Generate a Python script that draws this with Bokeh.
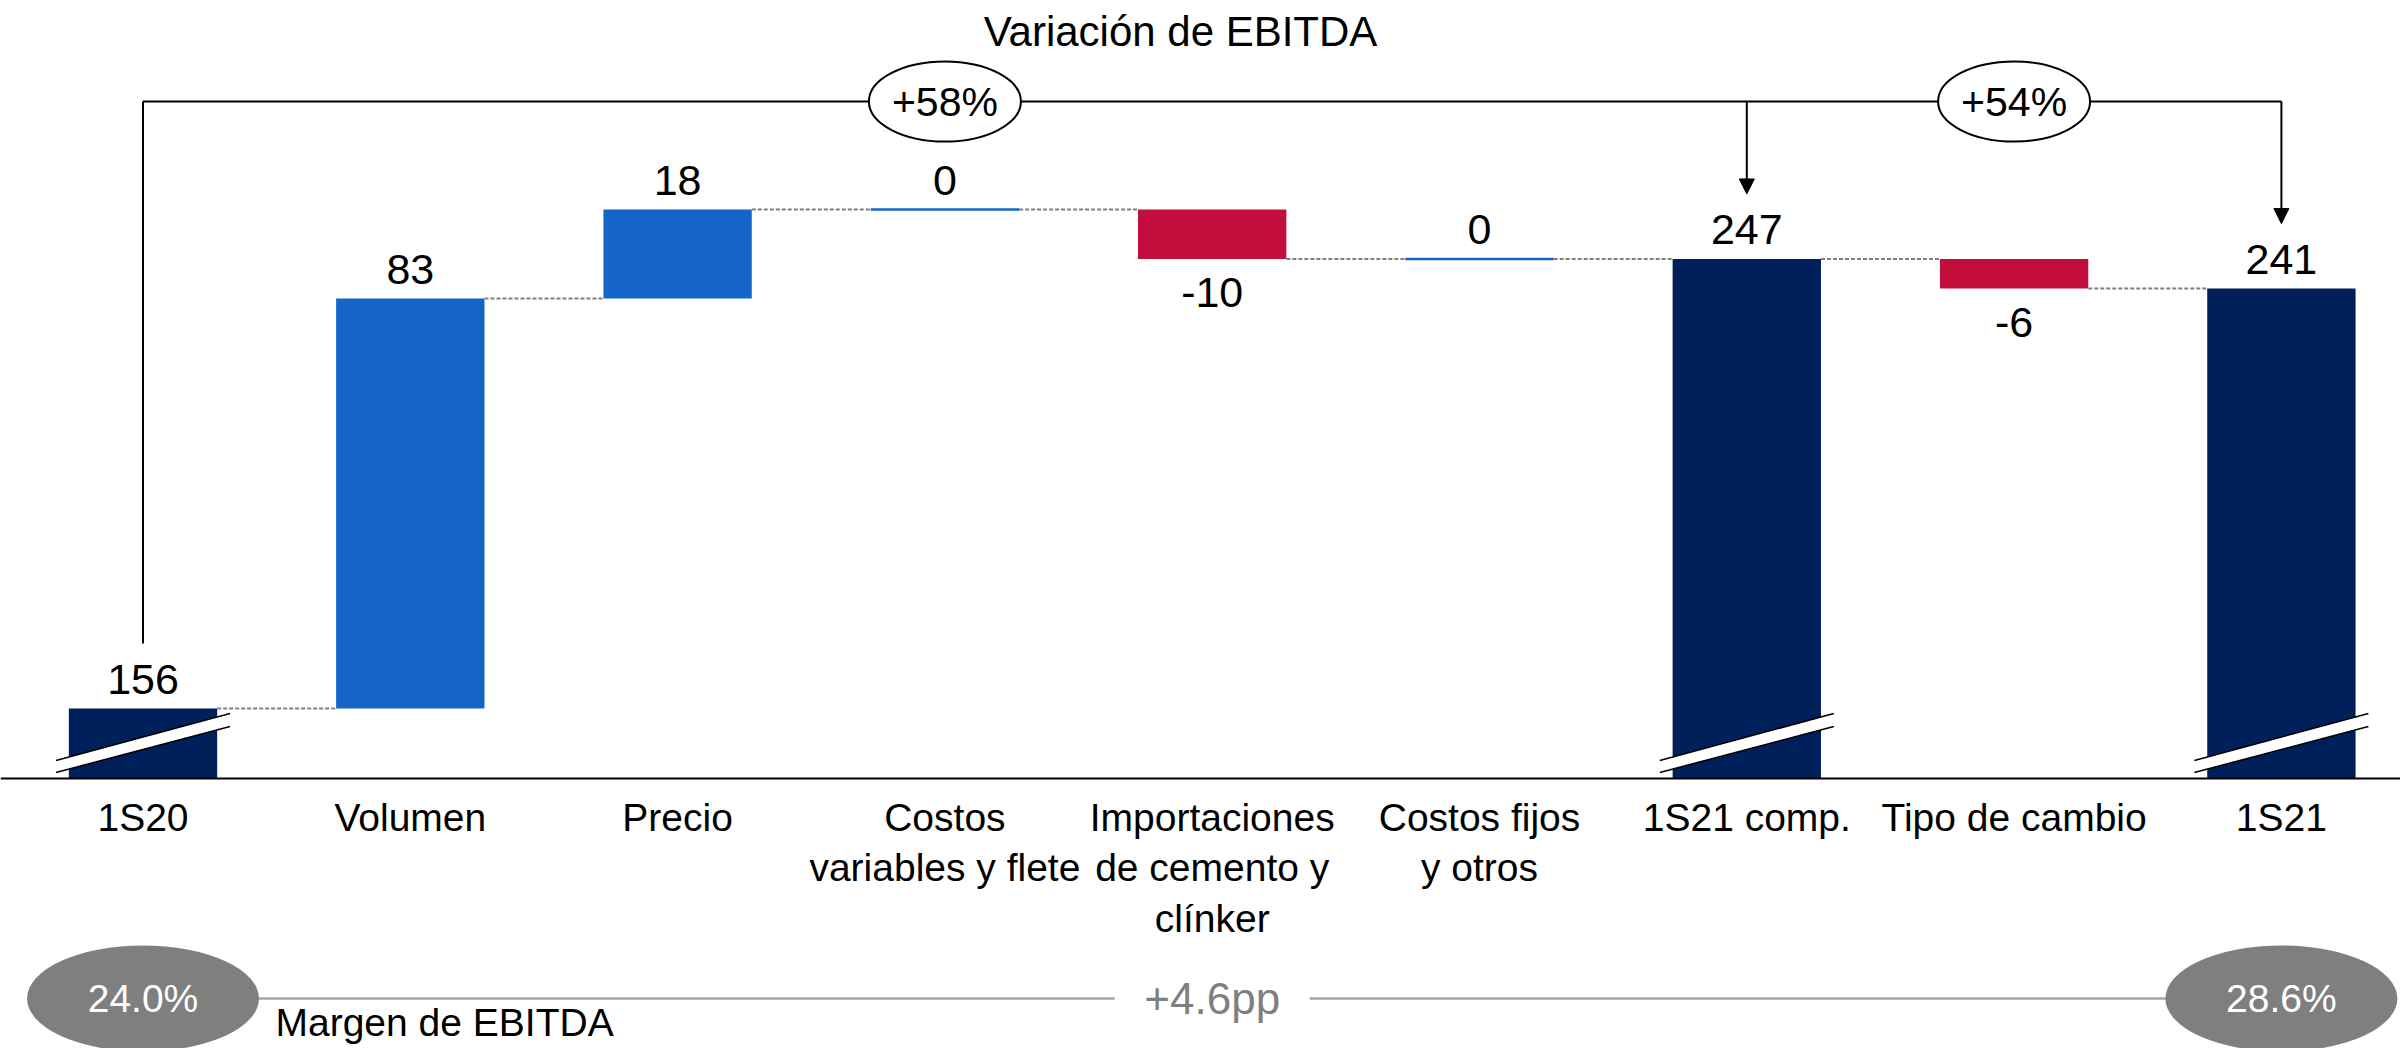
from bokeh.plotting import figure
from bokeh.models import Range1d, ColumnDataSource, Span, Arrow, NormalHead
from bokeh.core.properties import value
from bokeh.embed import file_html
from bokeh.resources import INLINE

# ---------------- data ----------------
title = "Variación de EBITDA"
categories = ["1S20", "Volumen", "Precio", "Costos\nvariables y flete",
              "Importaciones\nde cemento y\nclínker", "Costos fijos\ny otros",
              "1S21 comp.", "Tipo de cambio", "1S21"]
values = [156, 83, 18, 0, -10, 0, 247, -6, 241]
kinds = ["total", "delta", "delta", "delta", "delta", "delta", "total", "delta", "total"]
value_labels = ["156", "83", "18", "0", "-10", "0", "247", "-6", "241"]
growth_labels = ["+58%", "+54%"]
growth_targets = [6, 8]          # 1S21 comp., 1S21 (compared with 1S20)
margin_labels = ["24.0%", "28.6%"]
margin_index = [0, 8]
margin_change = "+4.6pp"
margin_title = "Margen de EBITDA"

# ---------------- style / layout ----------------
FONT = "Liberation Sans"
NAVY, BLUE, RED = "#00205B", "#1565C8", "#C20E3C"
GREY, LIGHTGREY = "#7F7F7F", "#A6A6A6"
W, H = 2400, 1048
PX_X = 267.3        # pixels per category
PX_Y = 4.94         # pixels per EBITDA unit
BAR_W = 0.555
BASE_PX = 778       # baseline position (px from top of figure)

BASE = values[0] - 70 / PX_Y          # broken-axis baseline value
x_start = -142.5 / PX_X
x_end = x_start + W / PX_X
y_end = BASE + BASE_PX / PX_Y
y_start = y_end - H / PX_Y


def xv(px):
    return x_start + px / PX_X


def yv(py):
    return y_end - py / PX_Y


p = figure(width=W, height=H, x_range=Range1d(x_start, x_end), y_range=Range1d(y_start, y_end),
           output_backend="svg", toolbar_location=None, min_border=0,
           x_axis_location=None, y_axis_location=None)
p.grid.visible = False
p.outline_line_color = None
p.background_fill_color = "white"

# ---------------- waterfall geometry ----------------
xs = list(range(len(categories)))
bottoms, tops, colors, label_y, label_off = [], [], [], [], []
running = 0
levels = []
for v, k in zip(values, kinds):
    if k == "total":
        b, t = BASE, v
        running = v
        c = NAVY
    else:
        b, t = (running, running + v) if v >= 0 else (running + v, running)
        running += v
        c = BLUE if v >= 0 else RED
    bottoms.append(b)
    tops.append(t)
    colors.append(c)
    levels.append(running)
    if k == "delta" and v < 0:
        label_y.append(b)
        label_off.append(34)
    else:
        label_y.append(t)
        label_off.append(-29)

nz = [i for i, v in enumerate(values) if v != 0]
zz = [i for i, v in enumerate(values) if v == 0]
src_nz = ColumnDataSource(dict(x=[xs[i] for i in nz], b=[bottoms[i] for i in nz],
                               t=[tops[i] for i in nz], c=[colors[i] for i in nz]))
src_zz = ColumnDataSource(dict(x=[xs[i] for i in zz], b=[bottoms[i] for i in zz],
                               t=[tops[i] for i in zz], c=[colors[i] for i in zz]))

# connectors
cx0 = [xs[i] + BAR_W / 2 for i in range(len(xs) - 1)]
cx1 = [xs[i + 1] - BAR_W / 2 for i in range(len(xs) - 1)]
cy = [levels[i] for i in range(len(xs) - 1)]
p.segment(x0=cx0, y0=cy, x1=cx1, y1=cy, line_color=GREY, line_width=2, line_dash="4 2")

p.vbar(x="x", bottom="b", top="t", width=BAR_W, fill_color="c", line_color=None, source=src_nz)
p.vbar(x="x", bottom="b", top="t", width=BAR_W, fill_color=None, line_color="c",
       line_width=2.5, source=src_zz)

# axis-break marks on total bars
bx, by, ux, uy = [], [], [], []
for i, k in enumerate(kinds):
    if k != "total":
        continue
    L, R = xs[i] - 87 / PX_X, xs[i] + 87 / PX_X
    a1, a2, b1, b2 = BASE + 6 / PX_Y, BASE + 18 / PX_Y, BASE + 52 / PX_Y, BASE + 65 / PX_Y
    bx.append([L, L, R, R])
    by.append([a1, a2, b2, b1])
    ux += [[L, R], [L, R]]
    uy += [[a2, b2], [a1, b1]]
p.patches(xs=bx, ys=by, fill_color="white", line_color=None)
p.multi_line(xs=ux, ys=uy, line_color="black", line_width=1.6)

# baseline
p.add_layout(Span(location=BASE, dimension="width", line_color="black", line_width=2))

# value labels
p.text(x=xs, y=label_y, text=value_labels, y_offset=label_off, text_align="center",
       text_baseline="middle", text_font=value(FONT), text_font_size="43px", text_color="black")

# category labels
p.text(x=xs, y=[yv(795)] * len(xs), text=categories, text_align="center", text_baseline="top",
       text_font=value(FONT), text_font_size="39px", text_color="black", text_line_height=1.18)

# title
p.text(x=[xv(1180)], y=[yv(31)], text=[title], text_align="center", text_baseline="middle",
       text_font=value(FONT), text_font_size="42px", text_color="black")

# growth bracket
BR = yv(101)
gap = 65 / PX_Y
p.segment(x0=[xs[0]], y0=[tops[0] + gap], x1=[xs[0]], y1=[BR], line_color="black", line_width=2)
p.segment(x0=[xs[0]], y0=[BR], x1=[xs[growth_targets[-1]]], y1=[BR], line_color="black", line_width=2)
for tgt in growth_targets:
    p.add_layout(Arrow(end=NormalHead(size=15, fill_color="black", line_color="black", line_width=1),
                       x_start=xs[tgt], y_start=BR, x_end=xs[tgt], y_end=tops[tgt] + gap,
                       line_color="black", line_width=2))
gx, prev = [], xs[0]
for tgt in growth_targets:
    gx.append((prev + xs[tgt]) / 2)
    prev = xs[tgt]
p.ellipse(x=gx, y=[BR] * len(gx), width=152, height=80, width_units="screen", height_units="screen",
          fill_color="white", line_color="black", line_width=2)
p.text(x=gx, y=[BR] * len(gx), text=growth_labels, text_align="center", text_baseline="middle",
       text_font=value(FONT), text_font_size="41px", text_color="black")

# EBITDA margin row
MR = yv(998)
mid = (xs[margin_index[0]] + xs[margin_index[1]]) / 2
half_gap = 97.5 / PX_X
p.segment(x0=[xs[margin_index[0]], mid + half_gap], y0=[MR, MR],
          x1=[mid - half_gap, xs[margin_index[1]]], y1=[MR, MR], line_color=LIGHTGREY, line_width=2.5)
p.ellipse(x=[xs[i] for i in margin_index], y=[MR] * 2, width=232, height=106,
          width_units="screen", height_units="screen", fill_color=GREY, line_color=None)
p.text(x=[xs[i] for i in margin_index], y=[MR] * 2, text=margin_labels, text_align="center",
       text_baseline="middle", text_font=value(FONT), text_font_size="39px", text_color="white")
p.text(x=[mid], y=[MR], text=[margin_change], text_align="center", text_baseline="middle",
       text_font=value(FONT), text_font_size="44px", text_color=GREY)
p.text(x=[xv(275)], y=[yv(1022)], text=[margin_title], text_align="left", text_baseline="middle",
       text_font=value(FONT), text_font_size="39px", text_color="black")

open("out.html", "w").write(file_html(p, INLINE))
